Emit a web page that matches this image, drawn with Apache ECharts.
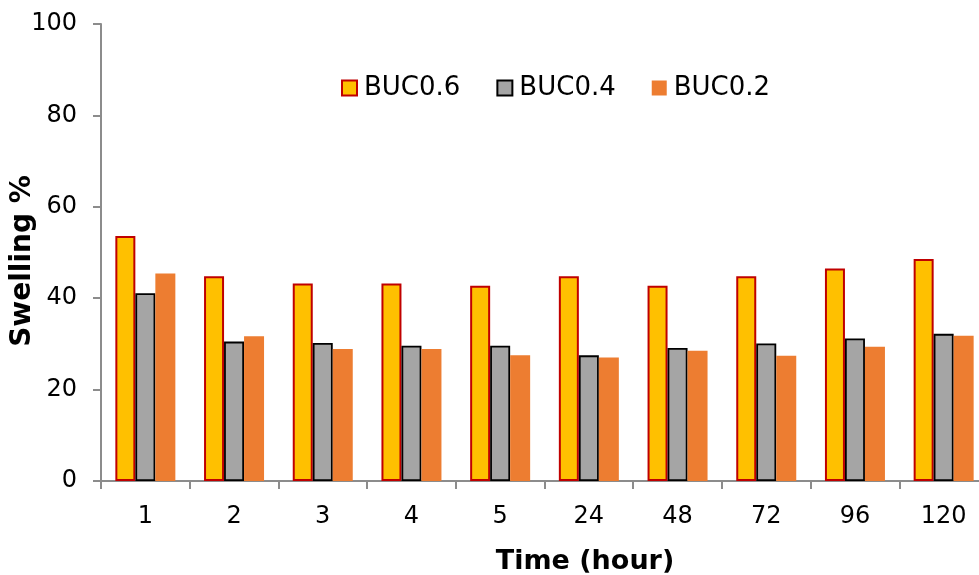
<!DOCTYPE html>
<html>
<head>
<meta charset="utf-8">
<script src="https://cdn.jsdelivr.net/npm/echarts@6/dist/echarts.min.js"></script>
<style>
  html, body { margin: 0; padding: 0; background: #fff; }
  #chart { width: 979px; height: 575px; }
</style>
</head>
<body>
<div id="chart"></div>
<script>
// Swelling over time for three BUC formulations
const categories = ['1', '2', '3', '4', '5', '24', '48', '72', '96', '120'];
const buc06 = [53.6, 44.8, 43.2, 43.2, 42.7, 44.8, 42.7, 44.8, 46.5, 48.6];
const buc04 = [41.1, 30.5, 30.2, 29.6, 29.6, 27.5, 29.1, 30.1, 31.2, 32.2];
const buc02 = [45.4, 31.7, 28.9, 28.9, 27.5, 27.0, 28.5, 27.4, 29.4, 31.8];
const yTicks = { min: 0, max: 100, interval: 20 };

const FONT = 'DejaVu Sans';
const axisGrey = '#8c8c8c';

const chart = echarts.init(document.getElementById('chart'), null, { renderer: 'canvas' });

chart.setOption({
  animation: false,
  backgroundColor: '#ffffff',
  textStyle: { fontFamily: FONT },
  // plot area runs slightly past the right edge of the canvas
  grid: { left: 101, top: 24, width: 887, height: 457, containLabel: false, outerBoundsMode: 'none' },
  legend: {
    left: 341,
    top: 75,
    padding: 0,
    icon: 'rect',
    itemWidth: 15,
    itemHeight: 15,
    itemGap: 36,
    textStyle: { fontFamily: FONT, fontSize: 26, color: '#000', padding: [0, 0, 0, 2] },
    data: ['BUC0.6', 'BUC0.4', 'BUC0.2']
  },
  xAxis: {
    type: 'category',
    data: categories,
    axisLine: { lineStyle: { color: axisGrey, width: 2 } },
    axisTick: { show: true, length: 8, lineStyle: { color: axisGrey, width: 2 } },
    axisLabel: { fontFamily: FONT, fontSize: 24, color: '#000', margin: 24 },
    splitLine: { show: false }
  },
  yAxis: {
    type: 'value',
    min: yTicks.min,
    max: yTicks.max,
    interval: yTicks.interval,
    axisLine: { show: true, lineStyle: { color: axisGrey, width: 2 } },
    axisTick: { show: true, length: 8, lineStyle: { color: axisGrey, width: 2 } },
    axisLabel: { fontFamily: FONT, fontSize: 24, color: '#000', margin: 24 },
    splitLine: { show: false }
  },
  series: [
    {
      name: 'BUC0.6', type: 'bar', data: buc06, barWidth: 20, barGap: '0%',
      itemStyle: { color: '#FFC000', borderColor: '#C00000', borderWidth: 2 }
    },
    {
      name: 'BUC0.4', type: 'bar', data: buc04, barWidth: 20, barGap: '0%',
      itemStyle: { color: '#A5A5A5', borderColor: '#000000', borderWidth: 1.8 }
    },
    {
      name: 'BUC0.2', type: 'bar', data: buc02, barWidth: 20, barGap: '0%',
      itemStyle: { color: '#ED7D31', borderWidth: 0 }
    }
  ],
  graphic: [
    {
      type: 'text', x: 585, y: 562,
      style: { text: 'Time (hour)', font: 'bold 27px "DejaVu Sans"', fill: '#000', textAlign: 'center', textVerticalAlign: 'middle' }
    },
    {
      type: 'text', x: 23, y: 261, rotation: Math.PI / 2,
      style: { text: 'Swelling %', font: 'bold 28px "DejaVu Sans"', fill: '#000', textAlign: 'center', textVerticalAlign: 'middle' }
    }
  ]
});
</script>
</body>
</html>
